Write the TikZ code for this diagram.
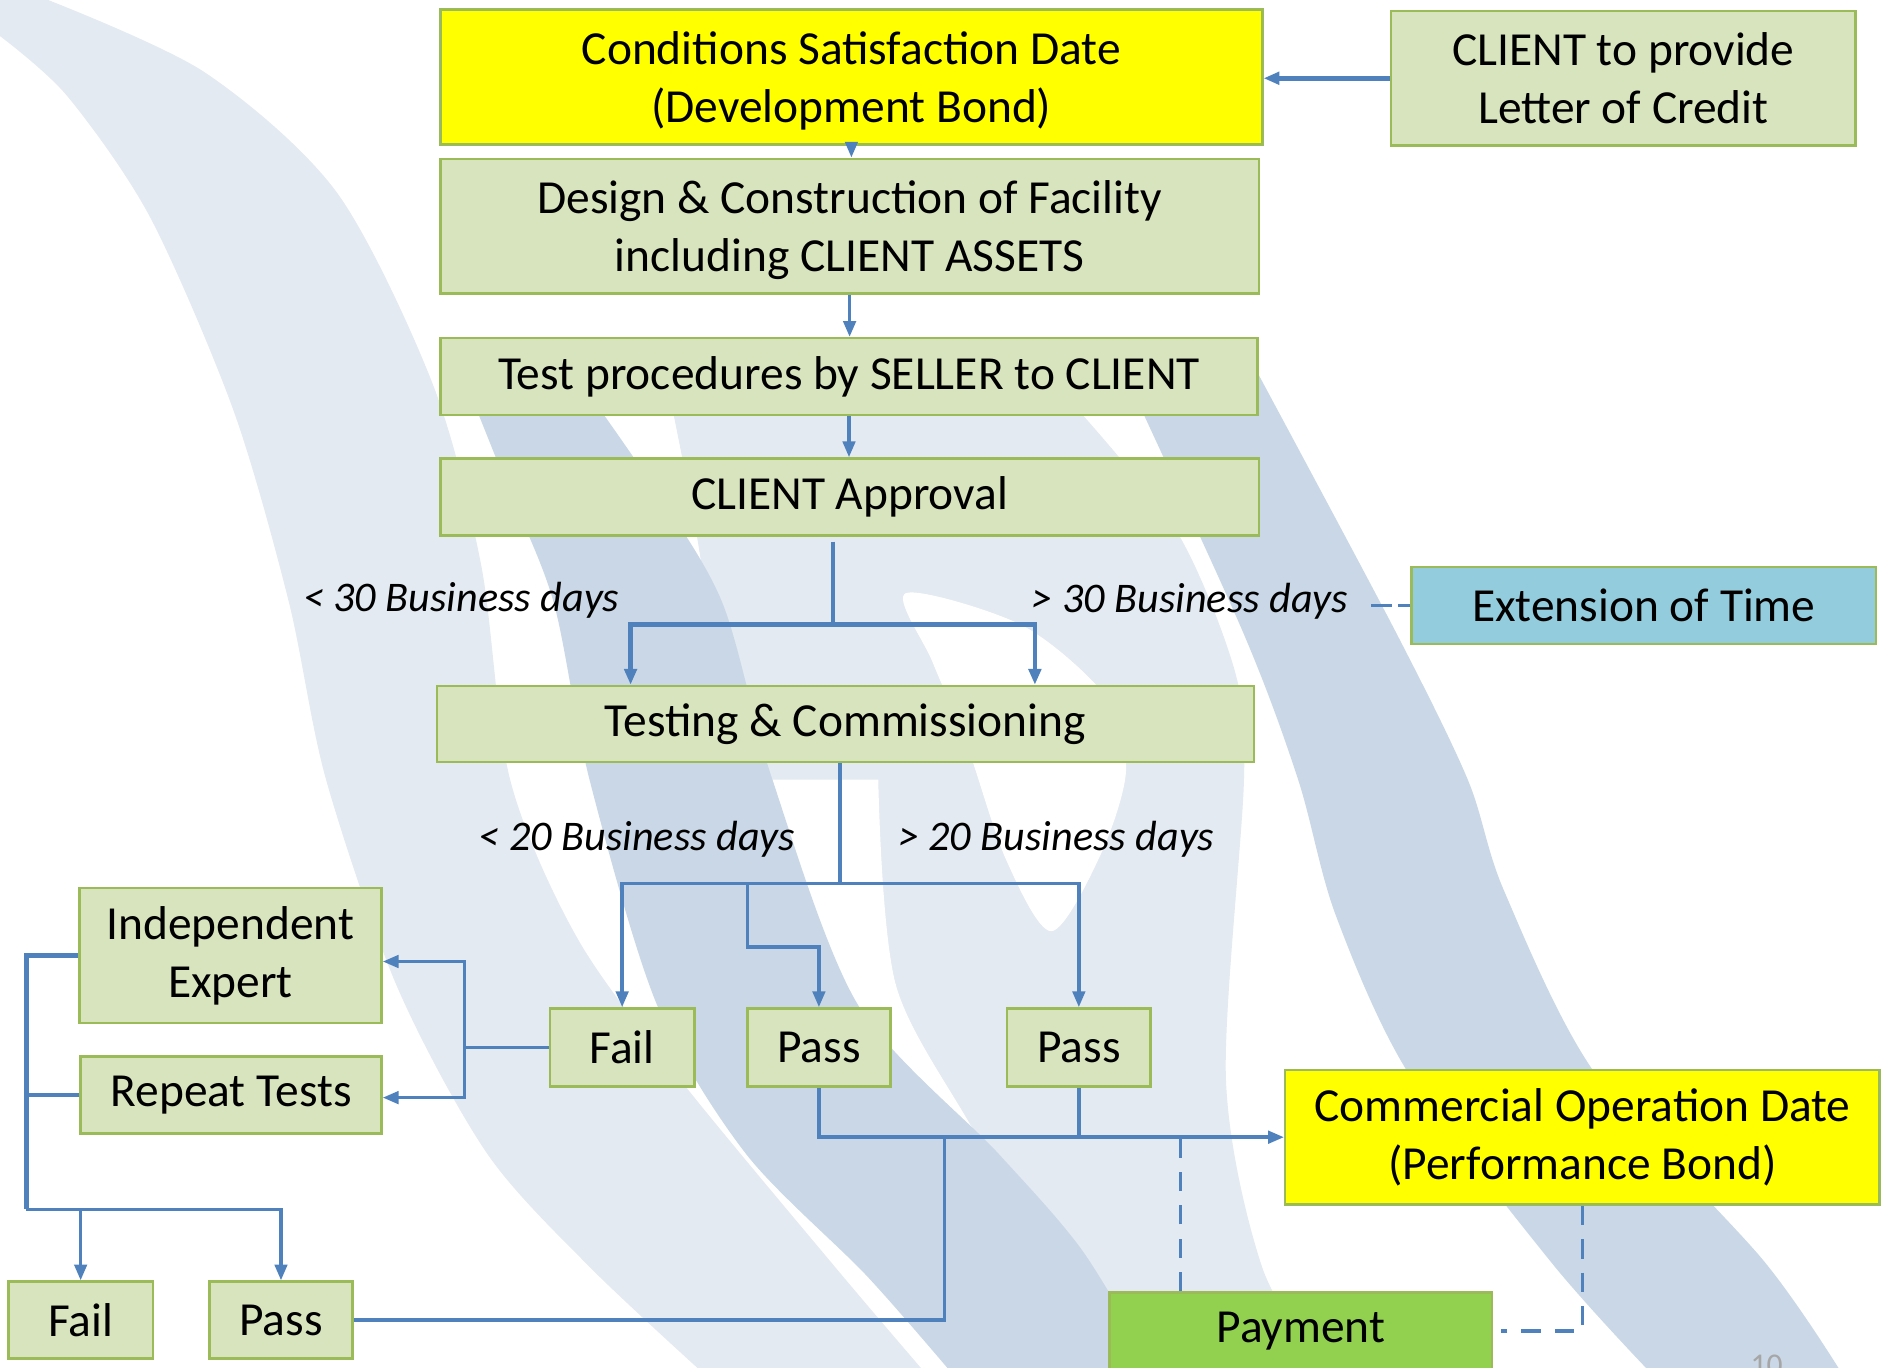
\documentclass[tikz,border=0pt]{standalone}
\usepackage{fontspec}
\setmainfont{Carlito}
\usetikzlibrary{arrows.meta}

\definecolor{boxfill}{HTML}{D7E4BD}
\definecolor{boxline}{HTML}{9BBB59}
\definecolor{bondyellow}{HTML}{FFFF00}
\definecolor{timeblue}{HTML}{93CDDD}
\definecolor{paygreen}{HTML}{92D050}
\definecolor{flowblue}{HTML}{4F81BD}
\definecolor{wmlight}{HTML}{E3EAF2}
\definecolor{wmdark}{HTML}{C9D7E6}

\newcommand{\diagfont}{\fontsize{27}{33}\selectfont}
\newcommand{\dayfont}{\fontsize{24}{29}\selectfont\itshape}

\tikzset{
  stagebox/.style={draw=boxline, line width=1.4pt, fill=boxfill, align=center, inner sep=0pt, font=\diagfont},
  arrowline/.style={draw=flowblue, line width=2pt, -{Triangle[length=9pt,width=7pt]}},
  busline/.style={draw=flowblue, line width=2pt},
  dashline/.style={draw=flowblue, line width=2pt, dash pattern=on 11pt off 8pt},
  daylabel/.style={font=\dayfont, inner sep=0pt}
}

\begin{document}
\begin{tikzpicture}
  \useasboundingbox (0,0) rectangle (37.742,-27.342);

  % watermark swooshes in the back
  \begin{scope}[x=0.024069cm, y=-0.024069cm]
    \fill[wmlight] plot[smooth] coordinates {(0,30) (56,80) (125,181) (194,341) (240,500) (271,648) (330,820) (405,959) (490,1053) (583,1140)}
      -- plot[smooth] coordinates {(768,1140) (694,1053) (565,897) (480,780) (424,648) (400,470) (360,320) (280,160) (170,60) (40,0)}
      -- (0,0) -- cycle;
    \fill[wmlight] plot[smooth] coordinates {(560,345) (580,450) (610,640) (650,800) (710,960) (800,1140)}
      -- plot[smooth] coordinates {(1100,1140) (1049,1053) (1019,897) (1034,648) (1027,560) (980,445) (900,345)} -- cycle;
    \fill[white] plot[smooth cycle] coordinates {(753,493) (850,520) (920,580) (936,640) (915,710) (874,774) (836,714) (804,620) (775,550)};
    \fill[white] plot[smooth] coordinates {(642,648) (700,820) (780,960) (860,1140)}
      -- plot[smooth] coordinates {(900,1140) (820,960) (745,820) (730,648)} -- cycle;
    \fill[wmdark] plot[smooth] coordinates {(380,300) (420,400) (460,500) (490,648) (546,835) (620,959) (720,1060) (790,1140)}
      -- plot[smooth] coordinates {(960,1140) (900,1040) (830,959) (713,835) (642,648) (600,500) (540,400) (470,300)} -- cycle;
    \fill[wmdark] plot[smooth] coordinates {(930,300) (1033,525) (1079,648) (1110,760) (1170,891) (1290,1050) (1371,1140)}
      -- plot[smooth] coordinates {(1530,1140) (1466,1048) (1325,891) (1250,740) (1220,648) (1160,525) (1040,300)} -- cycle;
  \end{scope}

  % stages
  \node[stagebox, fill=bondyellow, text depth=0pt, minimum width=16.439cm, minimum height=2.696cm] (csd) at (17.029,-1.540) {Conditions Satisfaction Date\\(Development Bond)};
  \node[stagebox, minimum width=9.291cm, minimum height=2.696cm] (loc) at (32.469,-1.565) {CLIENT to provide\\Letter of Credit};
  \node[stagebox, text depth=0pt, minimum width=16.367cm, minimum height=2.696cm] (dcf) at (16.993,-4.525) {Design \& Construction of Facility\\including CLIENT ASSETS};
  \node[stagebox, minimum width=16.343cm, minimum height=1.540cm] (tproc) at (16.981,-7.534) {Test procedures by SELLER to CLIENT};
  \node[stagebox, minimum width=16.367cm, minimum height=1.540cm] (appr) at (16.993,-9.940) {CLIENT Approval};
  \node[stagebox, fill=timeblue, minimum width=9.291cm, minimum height=1.540cm] (eot) at (32.878,-12.107) {Extension of Time};
  \node[stagebox, minimum width=16.343cm, minimum height=1.516cm] (tc) at (16.908,-14.478) {Testing \& Commissioning};
  \node[stagebox, minimum width=6.041cm, minimum height=2.696cm] (ie) at (4.609,-19.111) {Independent\\Expert};
  \node[stagebox, minimum width=6.017cm, minimum height=1.540cm] (rt) at (4.621,-21.903) {Repeat Tests};
  \node[stagebox, minimum width=2.888cm, minimum height=1.564cm] (failA) at (12.444,-20.952) {Fail};
  \node[stagebox, minimum width=2.864cm, minimum height=1.564cm] (passA) at (16.379,-20.952) {Pass};
  \node[stagebox, minimum width=2.864cm, minimum height=1.564cm] (passB) at (21.578,-20.952) {Pass};
  \node[stagebox, fill=bondyellow, minimum width=11.890cm, minimum height=2.696cm] (cod) at (31.651,-22.745) {Commercial Operation Date\\(Performance Bond)};
  \node[stagebox, minimum width=2.888cm, minimum height=1.540cm] (failB) at (1.613,-26.404) {Fail};
  \node[stagebox, minimum width=2.864cm, minimum height=1.540cm] (passC) at (5.620,-26.404) {Pass};
  \node[stagebox, fill=paygreen, minimum width=7.654cm, minimum height=1.540cm] (pay) at (26.019,-26.620) {Payment};

  % day limits
  \node[daylabel, anchor=east] (lt30) at (12.396,-12.010) {< 30 Business days};
  \node[daylabel, anchor=west] (gt30) at (20.627,-12.035) {> 30 Business days};
  \node[daylabel, anchor=east] (lt20) at (15.910,-16.776) {< 20 Business days};
  \node[daylabel, anchor=west] (gt20) at (17.955,-16.776) {> 20 Business days};

  % page number
  \node[text=black!35, font=\fontsize{18}{22}\selectfont, inner sep=0pt, anchor=north] (pageno) at (35.333,-27.10) {10};

  % top chain
  \draw[arrowline, line width=2.7pt] (loc.west) -- (loc.west -| csd.east);
  \draw[arrowline] (csd.south) -- (csd.south |- dcf.north);
  \draw[arrowline] (dcf.south) -- (dcf.south |- tproc.north);
  \draw[arrowline] (tproc.south) -- (tproc.south |- appr.north);

  % approval split
  \coordinate (split1) at (16.656,-12.492);
  \draw[busline] ([yshift=-0.1cm]appr.south -| split1) -- (split1);
  \draw[arrowline, line width=2.5pt] (split1) -| ([xshift=-4.296cm]tc.north);
  \draw[arrowline, line width=2.5pt] (split1) -| ([xshift=3.791cm]tc.north);
  \draw[dashline, dash pattern=on 7pt off 3.5pt on 12pt off 5pt, shorten >=0.457cm] (eot.west) -- (eot.west -| gt30.east);

  % testing split
  \coordinate (split2) at (16.800,-17.667);
  \coordinate (fork) at (14.947,-17.667);
  \draw[busline] (tc.south -| split2) -- (split2);
  \draw[arrowline] (split2) -| (failA.north);
  \draw[arrowline] (split2) -| (passB.north);
  \draw[arrowline] (fork) -- ++(0,-1.276) -| (passA.north);

  % fail loop
  \draw[busline] (failA.west) -- ++(-1.685,0) coordinate (failbus);
  \draw[arrowline] (failbus) |- ([yshift=-0.12cm]ie.east);
  \draw[arrowline] (failbus) |- ([yshift=-0.05cm]rt.east);
  \coordinate (lcorner) at (0.530,-24.189);
  \draw[busline, line width=2.6pt] (ie.west) -| (lcorner);
  \draw[busline] (rt.west) -- (rt.west -| lcorner);
  \draw[arrowline] (lcorner) -| (failB.north);
  \draw[arrowline] (lcorner) -| (passC.north);

  % passes to COD
  \coordinate (joinC) at (18.894,-22.721);
  \draw[busline] (passC.east) -| (joinC);
  \draw[arrowline] (passA.south) |- (cod.west);
  \draw[busline] (passB.south) -- (passB.south |- cod.west);
  \draw[dashline] ([xshift=-2.407cm]pay.north) -- ([xshift=-2.407cm]pay.north |- cod.west);
  \draw[dashline] (cod.south) |- ([xshift=0.15cm]pay.east);
\end{tikzpicture}
\end{document}
